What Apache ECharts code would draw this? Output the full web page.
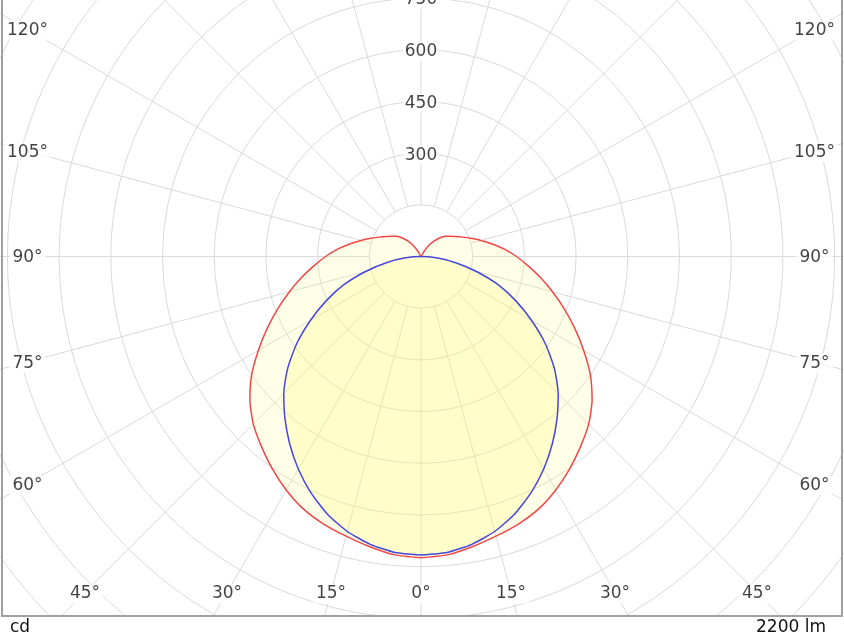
<!DOCTYPE html>
<html>
<head>
<meta charset="utf-8">
<script src="https://cdn.jsdelivr.net/npm/echarts@6/dist/echarts.min.js"></script>
<style>
  html, body { margin: 0; padding: 0; background: #fff; }
  #chart { width: 844px; height: 633px; }
</style>
</head>
<body>
<div id="chart"></div>
<script>
// gamma angles (deg from nadir), one half of the symmetric curve
const gammaAngles = [0, 5, 10, 15, 20, 25, 30, 35, 40, 45, 50, 55, 60, 65, 70, 75, 80, 85, 90,
  95, 100, 105, 110, 115, 120, 125, 130, 135, 140, 145, 150, 155, 160, 165, 170, 175, 180]
// C90-C270 plane (red), cd
const redIntensity = [874, 869, 855, 840, 826, 808, 782, 752, 720, 688, 648, 600, 545, 492, 442, 395, 352, 312, 277,
  243, 210, 180, 154, 133, 116, 103, 91, 76, 58, 38, 15, 0, 0, 0, 0, 0, 0]
// C0-C180 plane (blue), cd
const blueIntensity = [866, 862, 848, 826, 795, 756, 712, 664, 614, 563, 505, 440, 370, 303, 237, 165, 100, 45, 0,
  0, 0, 0, 0, 0, 0, 0, 0, 0, 0, 0, 0, 0, 0, 0, 0, 0, 0]
const angleTickLabels = [0, 15, 30, 45, 60, 75, 90, 105, 120]
const radiusTickLabels = [300, 450, 600, 750]

const CX = 421, CY = 256.5
const R = 517, RMAX = 1500
const pxPerCd = R / RMAX
const FONT = '"DejaVu Sans", Verdana, sans-serif'

// mirror the half-plane data into a closed loop 0..360
function loop(vals) {
  const out = []
  gammaAngles.forEach((a, i) => out.push([vals[i], a]))
  for (let i = gammaAngles.length - 2; i >= 0; i--) out.push([vals[i], 360 - gammaAngles[i]])
  return out
}

// angle labels sit where the radial lines meet the frame
function angleLabelData() {
  const out = []
  angleTickLabels.forEach((a) => {
    const rad = a * Math.PI / 180
    const px = a <= 45 ? 336 / Math.cos(rad) : 393.5 / Math.sin(rad)
    const r = px / pxPerCd
    out.push({ value: [r, a], name: a + '°' })
    if (a !== 0) out.push({ value: [r, 360 - a], name: a + '°' })
  })
  return out
}

const chart = echarts.init(document.getElementById('chart'))

chart.setOption({
  animation: false,
  backgroundColor: '#fff',
  polar: [
    { center: [CX, CY], radius: [0, R] },
    { center: [CX, CY], radius: [150 * pxPerCd, R] },
  ],
  angleAxis: [
    {
      polarIndex: 0, type: 'value', min: 0, max: 360, startAngle: 270, clockwise: true,
      axisLine: { show: false }, axisTick: { show: false }, axisLabel: { show: false }, splitLine: { show: false },
    },
    {
      polarIndex: 1, type: 'value', min: 0, max: 360, interval: 15, startAngle: 270, clockwise: true,
      axisLine: { show: false }, axisTick: { show: false }, axisLabel: { show: false },
      splitLine: { show: true, lineStyle: { color: '#dadada', width: 1 } },
    },
  ],
  radiusAxis: [
    {
      polarIndex: 0, type: 'value', min: 0, max: RMAX, interval: 150,
      axisLine: { show: false }, axisTick: { show: false }, axisLabel: { show: false },
      splitLine: { show: true, lineStyle: { color: '#dadada', width: 1 } },
    },
    {
      polarIndex: 1, type: 'value', min: 150, max: RMAX,
      axisLine: { show: false }, axisTick: { show: false }, axisLabel: { show: false }, splitLine: { show: false },
    },
  ],
  series: [
    {
      name: 'C90-C270',
      type: 'line',
      coordinateSystem: 'polar',
      polarIndex: 0,
      data: loop(redIntensity),
      symbol: 'none',
      smooth: 0.2,
      silent: true,
      z: 3,
      lineStyle: { color: '#f04848', width: 1.5 },
      areaStyle: { color: 'rgba(255, 255, 120, 0.25)' },
    },
    {
      name: 'C0-C180',
      type: 'line',
      coordinateSystem: 'polar',
      polarIndex: 0,
      data: loop(blueIntensity),
      symbol: 'none',
      smooth: 0.2,
      silent: true,
      z: 4,
      lineStyle: { color: '#4646dc', width: 1.5 },
      areaStyle: { color: 'rgba(255, 250, 100, 0.3)' },
    },
    // angle tick labels
    {
      type: 'scatter',
      coordinateSystem: 'polar',
      polarIndex: 0,
      data: angleLabelData(),
      symbol: 'circle',
      symbolSize: 1,
      silent: true,
      z: 10,
      itemStyle: { color: 'rgba(0,0,0,0)' },
      label: {
        show: true, position: 'inside', formatter: (p) => p.name, offset: [0, 1.5],
        color: '#111', fontFamily: FONT, fontSize: 17,
        backgroundColor: '#fff', padding: [1, 3],
      },
    },
    // radius tick labels along the upward line
    {
      type: 'scatter',
      coordinateSystem: 'polar',
      polarIndex: 0,
      data: radiusTickLabels.map((v) => ({ value: [v, 180], name: String(v) })),
      symbol: 'circle',
      symbolSize: 1,
      silent: true,
      z: 10,
      itemStyle: { color: 'rgba(0,0,0,0)' },
      label: {
        show: true, position: 'inside', formatter: (p) => p.name, offset: [0, 2],
        color: '#111', fontFamily: FONT, fontSize: 17,
        backgroundColor: '#fff', padding: [1, 2],
      },
    },
  ],
  graphic: [
    { type: 'rect', z: 50, shape: { x: 0, y: 617, width: 844, height: 20 }, style: { fill: '#fff' } },
    {
      type: 'rect', z: 51, shape: { x: 2, y: -4, width: 840, height: 620 },
      style: { fill: 'transparent', stroke: '#a0a0a0', lineWidth: 2 },
    },
    { type: 'text', z: 51, x: 10, y: 619, style: { text: 'cd', font: '17px ' + FONT, fill: '#111' } },
    { type: 'text', z: 51, x: 756, y: 619, style: { text: '2200 lm', font: '17px ' + FONT, fill: '#111' } },
  ],
})
</script>
</body>
</html>
